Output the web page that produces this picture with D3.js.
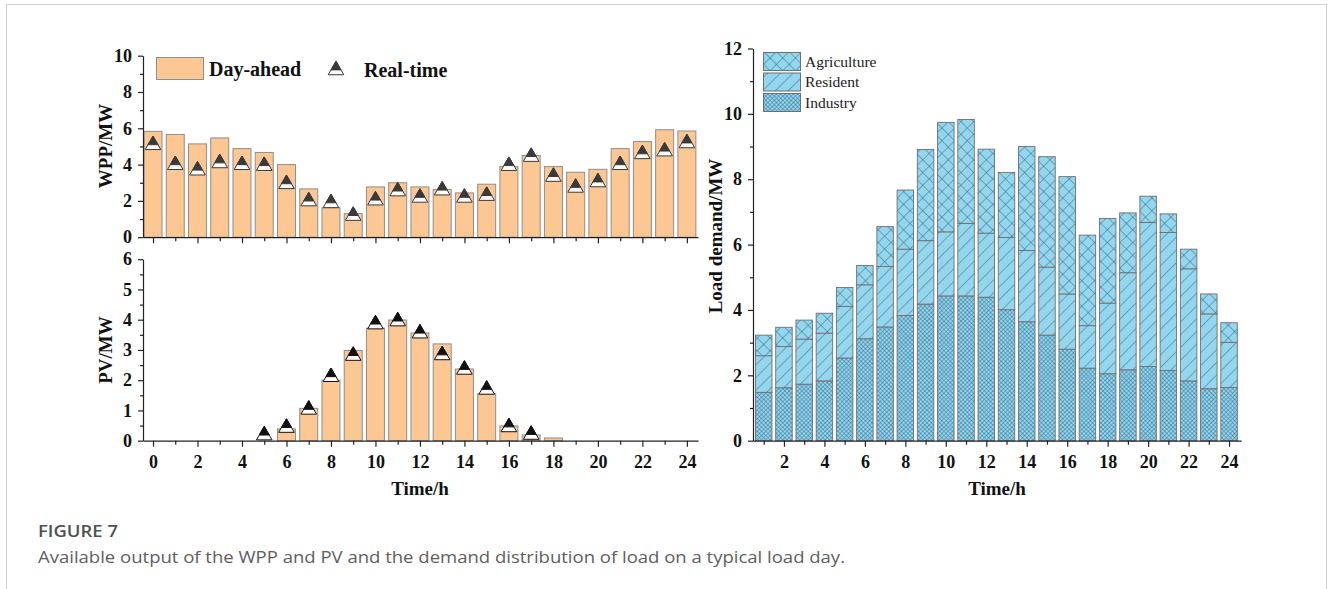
<!DOCTYPE html>
<html>
<head>
<meta charset="utf-8">
<script src="https://cdn.jsdelivr.net/npm/d3@7"></script>
<style>
  body { margin: 0; background: #fff; }
  svg text { font-family: "Liberation Serif", "Times New Roman", serif; }
  .axis path, .axis line { stroke: #222; stroke-width: 1.2px; }
  .axis text { font-size: 18px; font-weight: bold; fill: #111; }
</style>
</head>
<body>
<svg id="fig" width="1332" height="589"></svg>
<script>
// ---- data ----
let hoursLeft = d3.range(0, 25);              // 0..24
let wppDayAhead = [5.83, 5.66, 5.14, 5.47, 4.88, 4.67, 4.0, 2.66, 1.62, 1.30, 2.77, 3.0, 2.77,
                   2.63, 2.44, 2.92, 3.89, 4.5, 3.89, 3.58, 3.74, 4.88, 5.27, 5.92, 5.85];
let wppRealTime = [5.2, 4.1, 3.8, 4.2, 4.1, 4.05, 3.05, 2.1, 2.0, 1.3, 2.15, 2.65, 2.3,
                   2.7, 2.3, 2.4, 4.05, 4.55, 3.45, 2.85, 3.15, 4.1, 4.7, 4.85, 5.3];
let pvDayAhead = [0, 0, 0, 0, 0, 0, 0.39, 1.07, 2.0, 2.98, 3.72, 3.99, 3.56,
                  3.2, 2.37, 1.55, 0.49, 0.19, 0.09, 0, 0, 0, 0, 0, 0];
let pvRealTime = [null, null, null, null, null, 0.25, 0.5, 1.1, 2.18, 2.88, 3.92, 4.02, 3.62,
                  2.9, 2.42, 1.76, 0.52, 0.27, null, null, null, null, null, null, null];

let hoursRight = d3.range(1, 25);             // 1..24
let industry = [1.48, 1.62, 1.73, 1.83, 2.53, 3.12, 3.48, 3.83, 4.18, 4.43, 4.43, 4.39,
                4.01, 3.64, 3.23, 2.80, 2.22, 2.05, 2.17, 2.27, 2.15, 1.83, 1.59, 1.63];
let resident = [1.12, 1.26, 1.38, 1.46, 1.58, 1.65, 1.85, 2.03, 1.94, 1.96, 2.22, 1.96,
                2.21, 2.18, 2.08, 1.69, 1.30, 2.16, 2.97, 4.41, 4.22, 3.43, 2.29, 1.38];
let agriculture = [0.63, 0.59, 0.58, 0.61, 0.58, 0.59, 1.22, 1.81, 2.79, 3.35, 3.18, 2.57,
                   1.99, 3.18, 3.38, 3.59, 2.77, 2.59, 1.83, 0.80, 0.57, 0.60, 0.61, 0.60];
let loadSeries = ["Industry", "Resident", "Agriculture"];
let loadLegend = ["Agriculture", "Resident", "Industry"];

let svg = d3.select("#fig");
let defs = svg.append("defs");

// frame around the figure
svg.append("rect")
    .attr("x", 6.5).attr("y", 4.5)
    .attr("width", 1320).attr("height", 600)
    .attr("fill", "none").attr("stroke", "#cfcfcf");

// ---- hatch patterns for the load bars ----
let baseBlue = "#95d6ef", hatch = "#235f7b";
function makePattern(id, size, cross, width) {
    let p = defs.append("pattern")
        .attr("id", id)
        .attr("patternUnits", "userSpaceOnUse")
        .attr("width", size).attr("height", size)
        .attr("patternTransform", "rotate(45)");
    p.append("rect").attr("width", size).attr("height", size).attr("fill", baseBlue);
    p.append("line").attr("x1", 0).attr("y1", 0).attr("x2", 0).attr("y2", size)
        .attr("stroke", hatch).attr("stroke-width", width);
    if (cross) {
        p.append("line").attr("x1", 0).attr("y1", 0).attr("x2", size).attr("y2", 0)
            .attr("stroke", hatch).attr("stroke-width", width);
    }
}
makePattern("pat-Agriculture", 9, true, 0.9);
makePattern("pat-Resident", 9, false, 0.9);
makePattern("pat-Industry", 3, true, 0.85);

// ---- scales ----
let xL = d3.scaleLinear().domain([-0.45, 24.5]).range([143, 698]);
let yW = d3.scaleLinear().domain([0, 10]).range([237.2, 55.7]);
let yP = d3.scaleLinear().domain([0, 6]).range([440.7, 259.2]);
let xR = d3.scaleLinear().domain([0.47, 24.6]).range([753, 1241.2]);
let yR = d3.scaleLinear().domain([0, 12]).range([440.7, 48.5]);

let peach = "#fdc793", barEdge = "#8e8e8e";

// triangle marker: white base band, dark upper part
function triangle(g, cx, cy, color) {
    let h = 13.5, w = 7.8, top = cy - h / 2, f = 0.64;
    g.append("path")
        .attr("d", `M${cx},${top} L${cx + w},${top + h} L${cx - w},${top + h} Z`)
        .attr("fill", "#fff").attr("stroke", color).attr("stroke-width", 1);
    g.append("path")
        .attr("d", `M${cx},${top} L${cx + w * f},${top + h * f} L${cx - w * f},${top + h * f} Z`)
        .attr("fill", color).attr("stroke", color).attr("stroke-width", 1);
}

function drawAxes(x, y, yMajor, yMinor, showXLabels, xMajor, xMinor) {
    let gy = svg.append("g").attr("class", "axis")
        .attr("transform", `translate(${x.range()[0]},0)`);
    gy.call(d3.axisLeft(y).tickValues(yMajor).tickSize(5).tickPadding(6).tickSizeOuter(0)
        .tickFormat(d3.format("d")));
    svg.append("g").attr("class", "axis")
        .attr("transform", `translate(${x.range()[0]},0)`)
        .call(d3.axisLeft(y).tickValues(yMinor).tickSize(3).tickFormat("").tickSizeOuter(0))
        .select(".domain").remove();

    let gx = svg.append("g").attr("class", "axis")
        .attr("transform", `translate(0,${y.range()[0]})`);
    gx.call(d3.axisBottom(x).tickValues(xMajor).tickSize(6).tickPadding(9).tickSizeOuter(0)
        .tickFormat(showXLabels ? d3.format("d") : ""));
    svg.append("g").attr("class", "axis")
        .attr("transform", `translate(0,${y.range()[0]})`)
        .call(d3.axisBottom(x).tickValues(xMinor).tickSize(4).tickFormat("").tickSizeOuter(0))
        .select(".domain").remove();
}

function axisTitle(text, x, y, rotate) {
    svg.append("text")
        .attr("transform", `translate(${x},${y})` + (rotate ? " rotate(-90)" : ""))
        .attr("text-anchor", "middle")
        .attr("dy", "0.35em")
        .style("font-size", "19px").style("font-weight", "bold").style("fill", "#111")
        .text(text);
}

let evenL = d3.range(0, 25, 2), oddL = d3.range(1, 24, 2);

///------------------- WPP chart (top left) -------------------
let barW = 18;
let wpp = svg.append("g");
wpp.selectAll("rect").data(hoursLeft).enter().append("rect")
    .attr("x", d => xL(d) - barW / 2)
    .attr("y", (d, i) => yW(wppDayAhead[i]))
    .attr("width", barW)
    .attr("height", (d, i) => yW(0) - yW(wppDayAhead[i]))
    .attr("fill", peach).attr("stroke", barEdge).attr("stroke-width", 1);
hoursLeft.forEach((h, i) => triangle(wpp, xL(h), yW(wppRealTime[i]), "#3a3a3a"));
drawAxes(xL, yW, d3.range(0, 11, 2), d3.range(1, 10, 2), false, evenL, oddL);
axisTitle("WPP/MW", 105, 146, true);

// legend
svg.append("rect").attr("x", 156.5).attr("y", 57.5).attr("width", 47).attr("height", 22)
    .attr("fill", peach).attr("stroke", barEdge);
svg.append("text").attr("x", 209).attr("y", 76)
    .style("font-size", "20px").style("font-weight", "bold").style("fill", "#111")
    .text("Day-ahead");
triangle(svg.append("g"), 336, 68, "#3a3a3a");
svg.append("text").attr("x", 364).attr("y", 77)
    .style("font-size", "20px").style("font-weight", "bold").style("fill", "#111")
    .text("Real-time");

///------------------- PV chart (bottom left) -------------------
let pv = svg.append("g");
pv.selectAll("rect").data(hoursLeft.filter((h, i) => pvDayAhead[i] > 0)).enter().append("rect")
    .attr("x", d => xL(d) - barW / 2)
    .attr("y", d => yP(pvDayAhead[d]))
    .attr("width", barW)
    .attr("height", d => yP(0) - yP(pvDayAhead[d]))
    .attr("fill", peach).attr("stroke", barEdge).attr("stroke-width", 1);
hoursLeft.forEach((h, i) => {
    if (pvRealTime[i] !== null) triangle(pv, xL(h), yP(pvRealTime[i]), "#111");
});
drawAxes(xL, yP, d3.range(0, 7), d3.range(0.5, 6, 1), true, evenL, oddL);
axisTitle("PV/MW", 105, 350, true);
axisTitle("Time/h", 420, 488, false);

///------------------- Load demand chart (right) -------------------
let stackData = hoursRight.map((h, i) => ({
    hour: h, Industry: industry[i], Resident: resident[i], Agriculture: agriculture[i]
}));
let stacked = d3.stack().keys(loadSeries)(stackData);
let barWR = 16.5;

svg.append("g").selectAll("g").data(stacked).enter().append("g")
    .attr("fill", d => `url(#pat-${d.key})`)
    .selectAll("rect").data(d => d).enter().append("rect")
    .attr("x", d => xR(d.data.hour) - barWR / 2)
    .attr("y", d => yR(d[1]))
    .attr("width", barWR)
    .attr("height", d => yR(d[0]) - yR(d[1]))
    .attr("stroke", "#6f6f6f").attr("stroke-width", 0.9);

drawAxes(xR, yR, d3.range(0, 13, 2), d3.range(1, 12, 2), true, d3.range(2, 25, 2), d3.range(1, 24, 2));
axisTitle("Load demand/MW", 715, 236, true);
axisTitle("Time/h", 997, 488, false);

// legend
let leg = svg.append("g");
loadLegend.forEach((k, i) => {
    let y0 = 52 + i * 20.5;
    leg.append("rect").attr("x", 763.5).attr("y", y0 + 0.5).attr("width", 37).attr("height", 18)
        .attr("fill", `url(#pat-${k})`).attr("stroke", "#6f6f6f");
    leg.append("text").attr("x", 805).attr("y", y0 + 14.5)
        .style("font-size", "15.5px").style("fill", "#222")
        .text(k);
});

///------------------- caption -------------------
svg.append("text").attr("x", 38).attr("y", 537)
    .attr("textLength", 80).attr("lengthAdjust", "spacingAndGlyphs")
    .style("font-family", "'Open Sans', sans-serif").style("font-size", "17px")
    .style("font-weight", "600").style("fill", "#505050")
    .text("FIGURE 7");
svg.append("text").attr("x", 38).attr("y", 563)
    .attr("textLength", 807).attr("lengthAdjust", "spacingAndGlyphs")
    .style("font-family", "'Open Sans', sans-serif").style("font-size", "17px")
    .style("fill", "#5e5e5e")
    .text("Available output of the WPP and PV and the demand distribution of load on a typical load day.");
</script>
</body>
</html>
